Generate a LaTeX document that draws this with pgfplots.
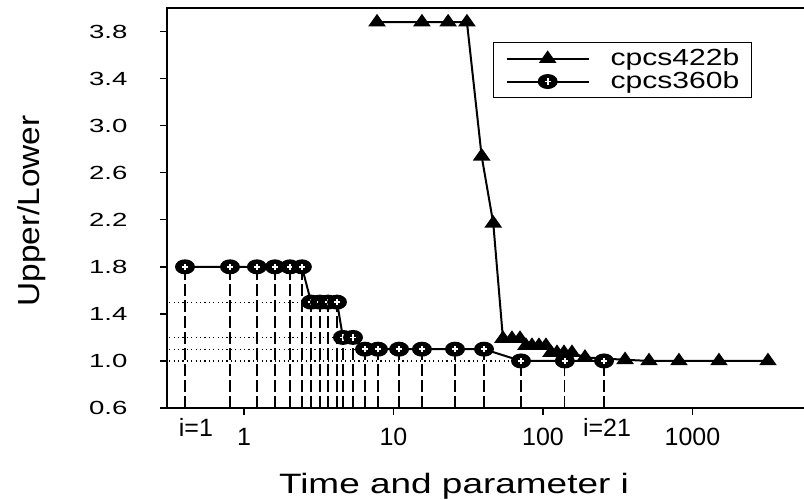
\documentclass[border=0pt]{standalone}
\usepackage{fontspec}
\setmainfont{Liberation Sans}
\usepackage{graphicx}
\usepackage{pgfplots}
\usepackage{pgfplotstable}
\pgfplotsset{compat=1.18}

% filled ellipse with a white plus, as in the original
\pgfdeclareplotmark{ringplus}{%
  \pgfpathellipse{\pgfpointorigin}{\pgfqpoint{1.33\pgfplotmarksize}{0pt}}{\pgfqpoint{0pt}{\pgfplotmarksize}}%
  \pgfsetfillcolor{black}%
  \pgfusepathqfill
  \pgfsetstrokecolor{white}%
  \pgfsetlinewidth{0.9pt}%
  \pgfpathmoveto{\pgfqpoint{-0.42\pgfplotmarksize}{0pt}}%
  \pgfpathlineto{\pgfqpoint{0.42\pgfplotmarksize}{0pt}}%
  \pgfpathmoveto{\pgfqpoint{0pt}{-0.42\pgfplotmarksize}}%
  \pgfpathlineto{\pgfqpoint{0pt}{0.42\pgfplotmarksize}}%
  \pgfusepathqstroke
}

\pgfplotstableread{
x y
0.403 1.8
0.806 1.8
1.22 1.8
1.61 1.8
2.03 1.8
2.44 1.8
2.81 1.5
3.22 1.5
3.65 1.5
4.19 1.5
4.59 1.2
5.36 1.2
6.45 1.1
7.88 1.1
10.9 1.1
15.5 1.1
25.8 1.1
40.3 1.1
71.3 1.0
140 1.0
256 1.0
}\circdata

\pgfplotstableread{
x y
7.76 3.88
15.5 3.88
23.2 3.88
31.0 3.88
38.9 2.74
46.5 2.17
54.0 1.19
62.0 1.19
70.2 1.19
76.9 1.13
84.4 1.13
94.0 1.13
104.7 1.13
113.1 1.07
124.1 1.07
138.2 1.07
156.3 1.07
191 1.03
354 1.01
512 1.0
812 1.0
1504 1.0
3199 1.0
}\tridata

\begin{document}
\begin{tikzpicture}
\begin{axis}[
  at={(0pt,0pt)}, anchor=south west,
  scale only axis, width=326.5pt, height=200pt,
  xmode=log, xmin=0.3055, xmax=7129,
  ymin=0.6, ymax=4.0,
  xtick={1,10,100,1000}, xticklabels={1,10,100,1000},
  xminorticks=false,
  extra x ticks={0.477,268}, extra x tick labels={i=1,i=21},
  extra x tick style={tick style={draw=none}, xticklabel style={yshift=4.5pt}},
  ytick={0.6,1.0,1.4,1.8,2.2,2.6,3.0,3.4,3.8},
  yticklabel style={/pgf/number format/fixed, /pgf/number format/fixed zerofill,
    /pgf/number format/precision=1, /pgf/number format/assume math mode=true,
    anchor=east, inner sep=0pt, xshift=-16pt, xscale=1.45, font=\fontsize{9.5}{11}\selectfont},
  xticklabel style={anchor=base, inner sep=0pt, yshift=-15pt, font=\fontsize{12.5}{14}\selectfont},
  tick align=outside, major tick length=3.5pt,
  xtick pos=left, ytick pos=left,
  tick style={line width=0.7pt, black},
  axis line style={line width=0.7pt},
  every axis x label/.style={at={(axis description cs:0.4395,0)}, yshift=-42.5pt, anchor=base,
    xscale=1.32, font=\fontsize{14}{16}\selectfont},
  every axis y label/.style={at={(axis description cs:0,0.4925)}, xshift=-63.75pt, rotate=90,
    anchor=base, xscale=1.1, font=\fontsize{15.2}{17}\selectfont},
  xlabel={Time and parameter i},
  ylabel={Upper/Lower},
  legend style={at={(axis description cs:0.4992,0.915)}, anchor=north west, draw=black,
    line width=0.7pt, inner xsep=6pt, inner ysep=3pt, row sep=1.5pt, column sep=0pt,
    nodes={inner sep=0pt}, font=\fontsize{11.65}{13}\selectfont},
  legend cell align=left,
  legend image code/.code={\draw[mark repeat=2, mark phase=2, #1] plot coordinates {(0pt,0pt) (20.5pt,0pt) (41pt,0pt)};},
]
% dashed drop lines under each i
\addplot[forget plot, ycomb, no markers, black, line width=0.65pt, dash pattern=on 6pt off 2pt] table {\circdata};
% dotted level lines
\addplot[forget plot, black, line width=0.6pt, dash pattern=on 0.6pt off 1.6pt] coordinates {(0.1,1.5) (2.81,1.5)};
\addplot[forget plot, black, line width=0.6pt, dash pattern=on 0.6pt off 1.6pt] coordinates {(0.1,1.2) (4.59,1.2)};
\addplot[forget plot, black, line width=0.6pt, dash pattern=on 0.6pt off 1.6pt] coordinates {(0.1,1.1) (6.45,1.1)};
\addplot[forget plot, black, line width=0.6pt, dash pattern=on 0.6pt off 1.6pt] coordinates {(0.1,1.0) (71.3,1.0)};

\addplot[black, line width=1pt, mark=triangle*, mark size=4pt, mark options={yscale=0.82, solid}] table {\tridata};
\addlegendentry{\hspace{10.5pt}\scalebox{1.29}[1]{cpcs422b}\hspace{22pt}}
\addplot[black, line width=1pt, mark=ringplus, mark size=3.75pt] table {\circdata};
\addlegendentry{\hspace{10.5pt}\scalebox{1.29}[1]{cpcs360b}\hspace{22pt}}
\end{axis}
\pgfresetboundingbox
\useasboundingbox (-83.5pt,-45.5pt) rectangle (318.5pt,204pt);
\end{tikzpicture}
\end{document}
